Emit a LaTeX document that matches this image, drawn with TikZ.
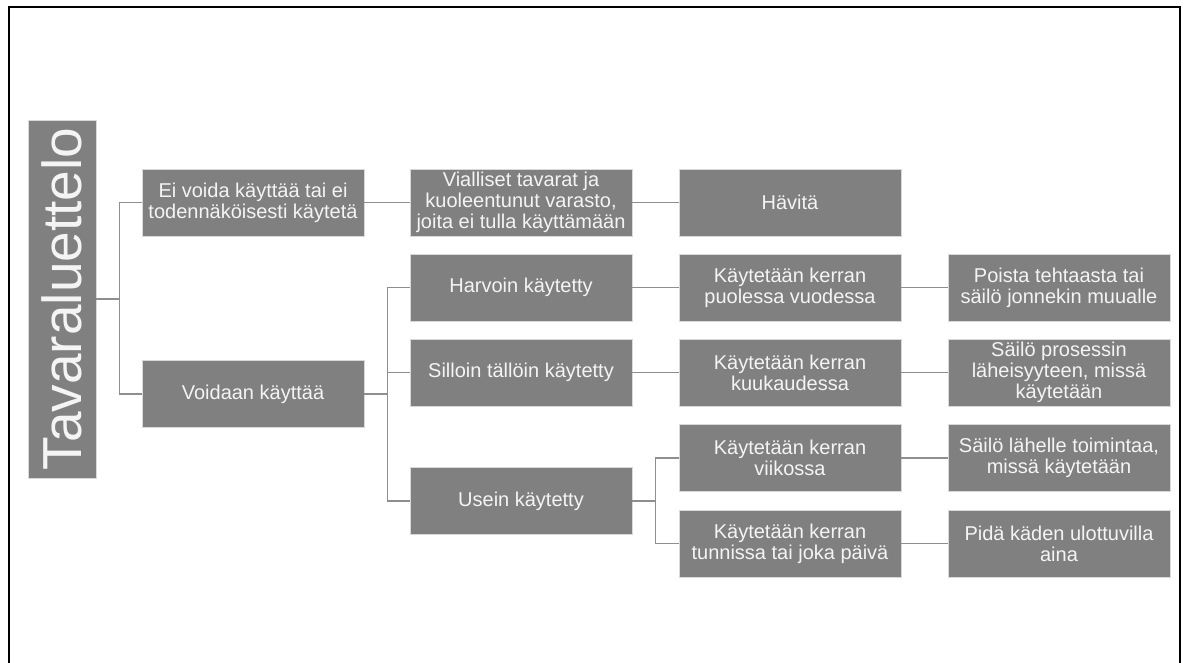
\documentclass[tikz,border=0pt]{standalone}
\usepackage{graphicx}
\usepackage{fontspec}
\setmainfont{Liberation Sans}
\definecolor{boxgray}{HTML}{808080}
\definecolor{linegray}{HTML}{8E8E8E}
\definecolor{boxtext}{HTML}{F4F4F4}
\begin{document}
\begin{tikzpicture}[x=1pt,y=-1pt,
	box/.style={fill=boxgray, draw=gray!30, line width=0.8pt, text=boxtext,
		minimum width=222pt, minimum height=67pt, inner sep=0pt,
		align=center, font=\fontsize{20}{21}\selectfont},
	link/.style={draw=linegray, line width=1.3pt}]
	\useasboundingbox (0,0) rectangle (1186,662);
	\draw[line width=1.6pt] (9,7) rectangle (1180,680);

	\node[box, minimum width=68pt, minimum height=358pt, font=\fontsize{55}{60}\selectfont]
		(title) at (62,299) {\rotatebox{90}{Tavaraluettelo}};

	\node[box] (ei)  at (253,202.5) {Ei voida käyttää tai ei\\todennäköisesti käytetä};
	\node[box] (voi) at (253,394)   {Voidaan käyttää};

	\node[box] (vial)  at (521,202.5) {Vialliset tavarat ja\\kuoleentunut varasto,\\joita ei tulla käyttämään};
	\node[box] (harv)  at (521,287.5) {Harvoin käytetty};
	\node[box] (sill)  at (521,372.5) {Silloin tällöin käytetty};
	\node[box] (usein) at (521,501)   {Usein käytetty};

	\node[box] (hav)  at (790,202.5) {Hävitä};
	\node[box] (puol) at (790,287.5) {Käytetään kerran\\puolessa vuodessa};
	\node[box] (kuuk) at (790,372.5) {Käytetään kerran\\kuukaudessa};
	\node[box] (viik) at (790,458)   {Käytetään kerran\\viikossa};
	\node[box] (tunn) at (790,543.5) {Käytetään kerran\\tunnissa tai joka päivä};

	\node[box] (poista) at (1059,287.5) {Poista tehtaasta tai\\säilö jonnekin muualle};
	\node[box] (pros)   at (1059,372.5) {Säilö prosessin\\läheisyyteen, missä\\käytetään};
	\node[box] (lah)    at (1059,458)   {Säilö lähelle toimintaa,\\missä käytetään};
	\node[box] (pida)   at (1059,543.5) {Pidä käden ulottuvilla\\aina};

	\draw[link] (title.east) -- ++(23,0) coordinate (j0);
	\draw[link] (ei.west) -| (j0) |- (voi.west);

	\draw[link] (voi.east) -- ++(23,0) coordinate (j1);
	\draw[link] (harv.west) -| (j1) |- (usein.west);
	\draw[link] (j1) |- (sill.west);

	\draw[link] (usein.east) -- ++(23,0) coordinate (j2);
	\draw[link] (viik.west) -| (j2) |- (tunn.west);

	\draw[link] (ei.east) -- (vial.west);
	\draw[link] (vial.east) -- (hav.west);
	\draw[link] (harv.east) -- (puol.west);
	\draw[link] (sill.east) -- (kuuk.west);
	\draw[link] (puol.east) -- (poista.west);
	\draw[link] (kuuk.east) -- (pros.west);
	\draw[link] (viik.east) -- (lah.west);
	\draw[link] (tunn.east) -- (pida.west);
\end{tikzpicture}
\end{document}
